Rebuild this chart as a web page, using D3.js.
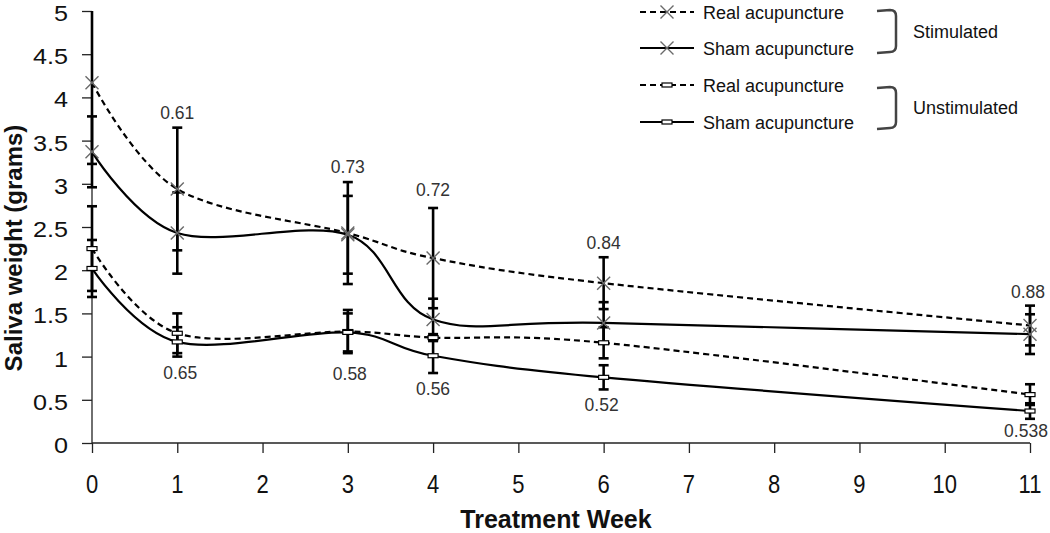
<!DOCTYPE html>
<html>
<head>
<meta charset="utf-8">
<script src="https://cdn.jsdelivr.net/npm/d3@7"></script>
<style>
  html, body { margin: 0; padding: 0; background: #fff; }
  svg { display: block; font-family: "Liberation Sans", Arial, sans-serif; }
</style>
</head>
<body>
<svg id="chart" width="1050" height="533"></svg>
<script>
// ---------- data ----------
const weeks = [0, 1, 3, 4, 6, 11];
const stimReal      = [4.17, 2.94, 2.43, 2.14, 1.85, 1.36];
const stimRealErr   = [0.94, 0.71, 0.59, 0.58, 0.30, 0.23];
const stimSham      = [3.37, 2.43, 2.41, 1.43, 1.39, 1.26];
const stimShamErr   = [0.41, 0.47, 0.45, 0.24, 0.24, 0.23];
const unstimReal    = [2.25, 1.27, 1.29, 1.22, 1.16, 0.56];
const unstimRealErr = [0.49, 0.23, 0.25, 0.04, 0.18, 0.12];
const unstimSham    = [2.02, 1.17, 1.28, 1.01, 0.76, 0.37];
const unstimShamErr = [0.33, 0.17, 0.22, 0.20, 0.14, 0.09];

const xTicks = [0,1,2,3,4,5,6,7,8,9,10,11];
const yTicks = [0,0.5,1,1.5,2,2.5,3,3.5,4,4.5,5];
const yTickLabels = ["0","0.5","1","1.5","2","2.5","3","3.5","4","4.5","5"];

const pWeeks = [1, 3, 4, 6, 11];
const pStimLabels = ["0.61","0.73","0.72","0.84","0.88"];
const pStimY = [3.82, 3.19, 2.93, 2.31, 1.75];
const pUnstimLabels = ["0.65","0.58","0.56","0.52","0.538"];
const pUnstimY = [0.81, 0.80, 0.63, 0.44, 0.14];

const legendLabels = ["Real acupuncture","Sham acupuncture","Real acupuncture","Sham acupuncture"];
const groupLabels = ["Stimulated","Unstimulated"];

const xTitle = "Treatment Week";
const yTitle = "Saliva weight (grams)";

// ---------- setup ----------
const svg = d3.select("#chart");
const x = d3.scaleLinear().domain([0, 11]).range([92, 1030]);
const y = d3.scaleLinear().domain([0, 5]).range([443, 11]);

const series = [
  {vals: stimReal,   err: stimRealErr,   dash: "6,4", marker: "x"},
  {vals: stimSham,   err: stimShamErr,   dash: null,  marker: "x"},
  {vals: unstimReal, err: unstimRealErr, dash: "6,4", marker: "rect"},
  {vals: unstimSham, err: unstimShamErr, dash: null,  marker: "rect"}
];

svg.append("defs").append("clipPath").attr("id", "plotclip")
  .append("rect").attr("x", 60).attr("y", y(5)).attr("width", 990).attr("height", y(0) - y(5) + 20);

// ---------- axes ----------
const yAxis = d3.axisLeft(y).tickValues(yTicks).tickSize(10).tickFormat("");
const gy = svg.append("g").attr("transform", `translate(${x(0)},0)`).call(yAxis);
gy.select(".domain").attr("stroke", "#222").attr("stroke-width", 1.3).attr("d", `M0,${y(5)}V${y(0)}`);
gy.selectAll(".tick line").attr("stroke", "#222").attr("stroke-width", 1.3);

svg.append("g").selectAll("text").data(yTicks).join("text")
  .attr("transform", (d) => `translate(68,${y(d) + 10}) scale(1.12,1)`)
  .attr("text-anchor", "end")
  .attr("font-size", 22.5)
  .attr("fill", "#111")
  .text((d, i) => yTickLabels[i]);

const xAxis = d3.axisBottom(x).tickValues(xTicks).tickSize(10).tickFormat("");
const gx = svg.append("g").attr("transform", `translate(0,${y(0)})`).call(xAxis);
gx.select(".domain").attr("stroke", "#222").attr("stroke-width", 1.3).attr("d", `M${x(0)},0H${x(11)}`);
gx.selectAll(".tick line").attr("stroke", "#222").attr("stroke-width", 1.3);

svg.append("g").selectAll("text").data(xTicks).join("text")
  .attr("transform", (d) => `translate(${x(d)},493) scale(0.88,1)`)
  .attr("text-anchor", "middle")
  .attr("font-size", 25)
  .attr("fill", "#111")
  .text((d) => String(d));

svg.append("text")
  .attr("x", (x(0) + x(11)) / 2 - 5).attr("y", 528)
  .attr("text-anchor", "middle").attr("font-size", 25).attr("font-weight", "bold")
  .attr("fill", "#111").text(xTitle);

svg.append("text")
  .attr("transform", "translate(22,248) rotate(-90)")
  .attr("text-anchor", "middle").attr("font-size", 24).attr("font-weight", "bold")
  .attr("fill", "#111").text(yTitle);

// ---------- error bars ----------
const gErr = svg.append("g").attr("clip-path", "url(#plotclip)");
series.forEach((s) => {
  const pts = weeks.map((w, i) => ({w, v: s.vals[i], e: s.err[i]}));
  gErr.selectAll(null).data(pts).join("line")
    .attr("x1", (d) => x(d.w)).attr("x2", (d) => x(d.w))
    .attr("y1", (d) => y(d.v + d.e)).attr("y2", (d) => y(d.v - d.e))
    .attr("stroke", "#000").attr("stroke-width", 2.6);
  ["+", "-"].forEach((sign) => {
    gErr.selectAll(null).data(pts).join("line")
      .attr("x1", (d) => x(d.w) - 5).attr("x2", (d) => x(d.w) + 5)
      .attr("y1", (d) => y(sign === "+" ? d.v + d.e : d.v - d.e))
      .attr("y2", (d) => y(sign === "+" ? d.v + d.e : d.v - d.e))
      .attr("stroke", "#000").attr("stroke-width", 2.6);
  });
});

// ---------- lines ----------
const line = d3.line().x((d) => x(d.w)).y((d) => y(d.v)).curve(d3.curveCardinal.tension(0));
series.forEach((s) => {
  const pts = weeks.map((w, i) => ({w, v: s.vals[i]}));
  svg.append("path").datum(pts).attr("d", line)
    .attr("fill", "none").attr("stroke", "#000").attr("stroke-width", 2.2)
    .attr("stroke-dasharray", s.dash);
});

// ---------- markers ----------
function drawMarker(g, type, cx, cy) {
  if (type === "x") {
    const r = 6.5;
    g.append("path")
      .attr("d", `M${cx - r},${cy - r}L${cx + r},${cy + r}M${cx - r},${cy + r}L${cx + r},${cy - r}`)
      .attr("stroke", "#6a6a6a").attr("stroke-width", 1.4).attr("fill", "none");
  } else {
    g.append("rect").attr("x", cx - 5).attr("y", cy - 2).attr("width", 10).attr("height", 4)
      .attr("fill", "#fff").attr("stroke", "#000").attr("stroke-width", 1.2);
  }
}
const gMark = svg.append("g");
series.forEach((s) => {
  weeks.forEach((w, i) => drawMarker(gMark, s.marker, x(w), y(s.vals[i])));
});

// ---------- p-value annotations ----------
const annoOffsets = [0, 0, 0, 0, -2];
svg.append("g").selectAll("text").data(pWeeks).join("text")
  .attr("x", (d, i) => x(d) + annoOffsets[i]).attr("y", (d, i) => y(pStimY[i]) + 6)
  .attr("text-anchor", "middle").attr("font-size", 17.5).attr("fill", "#333")
  .text((d, i) => pStimLabels[i]);
const annoOffsets2 = [3, 2, 0, -2, -4];
svg.append("g").selectAll("text").data(pWeeks).join("text")
  .attr("x", (d, i) => x(d) + annoOffsets2[i]).attr("y", (d, i) => y(pUnstimY[i]) + 6)
  .attr("text-anchor", "middle").attr("font-size", 17.5).attr("fill", "#333")
  .text((d, i) => pUnstimLabels[i]);

// ---------- legend ----------
const legRowY = [12, 48, 85, 122];
const gLeg = svg.append("g");
series.forEach((s, i) => {
  const cy = legRowY[i];
  gLeg.append("line").attr("x1", 640).attr("x2", 694).attr("y1", cy).attr("y2", cy)
    .attr("stroke", "#000").attr("stroke-width", 2).attr("stroke-dasharray", s.dash);
  drawMarker(gLeg, s.marker, 667, cy);
  gLeg.append("text").attr("x", 703).attr("y", cy + 6.5)
    .attr("font-size", 18).attr("fill", "#111").text(legendLabels[i]);
});
const braces = [[10, 52], [87, 128]];
braces.forEach((b, i) => {
  const [t, bt] = b;
  gLeg.append("path")
    .attr("d", `M877,${t + 1}L890,${t}Q896,${t} 896,${t + 6}L896,${bt - 6}Q896,${bt} 890,${bt}L877,${bt + 1}`)
    .attr("fill", "none").attr("stroke", "#444").attr("stroke-width", 2.5);
  gLeg.append("text").attr("x", 913).attr("y", (t + bt) / 2 + 6.5)
    .attr("font-size", 18).attr("fill", "#111").text(groupLabels[i]);
});
</script>
</body>
</html>
